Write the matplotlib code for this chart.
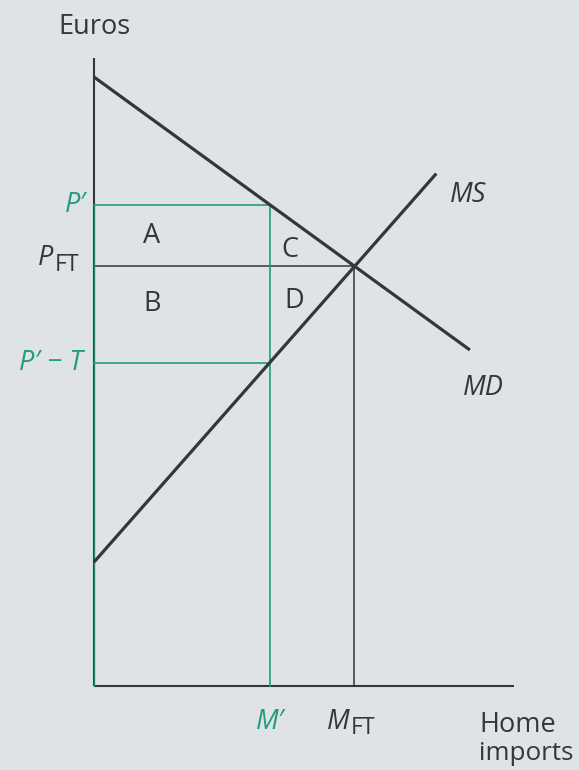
import matplotlib.pyplot as plt

# price levels (euros) and import quantities
p_prime = 11.45
p_ft = 10.0
p_prime_t = 7.7
m_prime = 4.2
m_ft = 6.2

# import demand (MD) and import supply (MS) schedules
md_x = [0.0, 8.95]
md_y = [14.5, 8.0]
ms_x = [0.0, 8.15]
ms_y = [2.95, 12.2]

x_axis_end = 10.0
y_axis_end = 14.95

bg = "#e0e3e5"
dark = "#33373d"
teal = "#1f9c82"
fs = 19.5
fam = ["Open Sans", "DejaVu Sans"]

fig = plt.figure(figsize=(5.79, 7.70), dpi=100, facecolor=bg)
ax = fig.add_axes([0, 0, 1, 1])
ax.set_facecolor(bg)

# one data unit = 42 px, origin at (94, 686) px
scale = 42.0
ax.set_xlim(-94 / scale, (579 - 94) / scale)
ax.set_ylim(-(770 - 686) / scale, 686 / scale)
ax.axis("off")


def px(x):
    return (x - 94) / scale


def py(y):
    return (686 - y) / scale


# axes
ax.plot([0, 0], [0, y_axis_end], color=dark, lw=1.5, solid_capstyle="butt")
ax.plot([0, x_axis_end], [0, 0], color=dark, lw=1.5, solid_capstyle="butt")

# free-trade price and quantity
ax.plot([0, m_ft], [p_ft, p_ft], color=dark, lw=1.1)
ax.plot([m_ft, m_ft], [0, p_ft], color=dark, lw=1.1)

# tariff-equivalent box
ax.plot([0, m_prime], [p_prime, p_prime], color=teal, lw=1.2)
ax.plot([0, m_prime], [p_prime_t, p_prime_t], color=teal, lw=1.2)
ax.plot([m_prime, m_prime], [0, p_prime], color=teal, lw=1.2)
ax.plot([0, 0], [0, p_prime], color=teal, lw=1.0, alpha=0.8)

# schedules
ax.plot(md_x, md_y, color=dark, lw=2.3, solid_capstyle="butt")
ax.plot(ms_x, ms_y, color=dark, lw=2.3, solid_capstyle="butt")

# axis titles
ax.text(px(94), py(27), "Euros", fontsize=fs, color=dark, family=fam,
        ha="center", va="center")
ax.text(px(479), py(725), "Home", fontsize=fs, color=dark, family=fam,
        ha="left", va="center")
ax.text(px(479), py(753), "imports", fontsize=fs * 0.96, color=dark,
        family=fam, ha="left", va="center")

# price labels
ax.text(px(86), p_prime, "P\u2032", fontsize=fs, color=teal, family=fam,
        style="italic", ha="right", va="center")
ax.text(px(38), py(258), "P", fontsize=fs, color=dark, family=fam,
        style="italic", ha="left", va="center")
ax.text(px(55), py(265), "FT", fontsize=fs * 0.85, color=dark, family=fam,
        ha="left", va="center")
ax.text(px(83), p_prime_t, "P\u2032 \u2212 T", fontsize=fs, color=teal,
        family=fam, style="italic", ha="right", va="center")

# quantity labels
ax.text(m_prime, py(722), "M\u2032", fontsize=fs, color=teal, family=fam,
        style="italic", ha="center", va="center")
ax.text(px(327), py(722), "M", fontsize=fs, color=dark, family=fam,
        style="italic", ha="left", va="center")
ax.text(px(351), py(728), "FT", fontsize=fs * 0.85, color=dark, family=fam,
        ha="left", va="center")

# curve labels
ax.text(px(450), py(195), "MS", fontsize=fs, color=dark, family=fam,
        style="italic", ha="left", va="center")
ax.text(px(463), py(388), "MD", fontsize=fs, color=dark, family=fam,
        style="italic", ha="left", va="center")

# area labels
ax.text(px(152), (p_prime + p_ft) / 2, "A", fontsize=fs, color=dark,
        family=fam, ha="center", va="center")
ax.text(px(152), py(304), "B", fontsize=fs, color=dark, family=fam,
        ha="center", va="center")
ax.text(px(290), py(250), "C", fontsize=fs, color=dark, family=fam,
        ha="center", va="center")
ax.text(px(294), py(301), "D", fontsize=fs, color=dark, family=fam,
        ha="center", va="center")

fig.savefig("out.png", dpi=100, facecolor=bg)
